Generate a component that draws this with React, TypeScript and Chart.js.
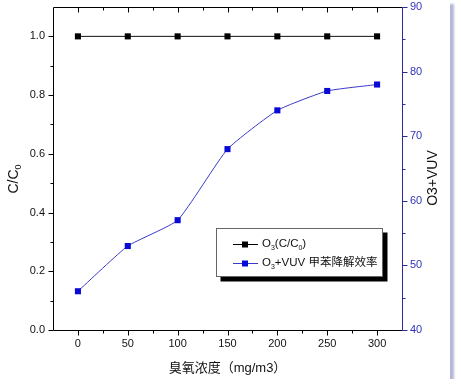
import React, { useEffect, useRef } from "react";
import { Chart, registerables } from "chart.js";

Chart.register(...registerables);

// ---- data ----
const ozone = [0, 50, 100, 150, 200, 250, 300];
const ratioCC0 = [1.0, 1.0, 1.0, 1.0, 1.0, 1.0, 1.0];
const efficiency = [46, 53, 57, 68, 74, 77, 78];

const xTicks = [0, 50, 100, 150, 200, 250, 300];
const xMinor = [25, 75, 125, 175, 225, 275];
const leftTicks = [0, 0.2, 0.4, 0.6, 0.8, 1.0];
const leftMinor = [0.1, 0.3, 0.5, 0.7, 0.9];
const rightTicks = [40, 50, 60, 70, 80, 90];
const rightMinor = [45, 55, 65, 75, 85];

const xTitle = "臭氧浓度（mg/m3）";
const leftTitle = [{ t: "C/C" }, { t: "0", sub: true }];
const rightTitle = [{ t: "O3+VUV" }];
const legend1 = [{ t: "O" }, { t: "3", sub: true }, { t: "(C/C" }, { t: "0", sub: true }, { t: ")" }];
const legend2 = [{ t: "O" }, { t: "3", sub: true }, { t: "+VUV 甲苯降解效率" }];

const W = 450;
const H = 379;
const FONT = '"Liberation Sans", Arial, "Noto Sans CJK SC", sans-serif';
const BLUE_AXIS = "#2a2a9a";
const BLUE_TEXT = "#3333b8";
const BLUE_LINE = "#3a3ac8";
const BLUE_MARK = "#0a0ad6";

type Seg = { t: string; sub?: boolean };

function segWidth(ctx: CanvasRenderingContext2D, segs: Seg[], size: number) {
  let w = 0;
  for (const s of segs) {
    ctx.font = `${s.sub ? Math.round(size * 0.62) : size}px ${FONT}`;
    w += ctx.measureText(s.t).width;
  }
  return w;
}

function drawSegs(ctx: CanvasRenderingContext2D, segs: Seg[], x: number, y: number, size: number) {
  ctx.textBaseline = "middle";
  ctx.textAlign = "left";
  let cx = x;
  for (const s of segs) {
    const fs = s.sub ? Math.round(size * 0.62) : size;
    ctx.font = `${fs}px ${FONT}`;
    ctx.fillText(s.t, cx, s.sub ? y + size * 0.35 : y);
    cx += ctx.measureText(s.t).width;
  }
}

const framePlugin = {
  id: "frame",
  afterDraw(chart: any) {
    const ctx: CanvasRenderingContext2D = chart.ctx;
    const { left, right, top, bottom } = chart.chartArea;
    const L = Math.round(left) + 0.5;
    const R = Math.round(right) + 0.5;
    const T = Math.round(top) + 0.5;
    const B = Math.round(bottom) + 0.5;
    const xs = chart.scales.x;
    const yl = chart.scales.y;
    const yr = chart.scales.y1;
    const ln = (x1: number, y1: number, x2: number, y2: number) => {
      ctx.beginPath();
      ctx.moveTo(x1, y1);
      ctx.lineTo(x2, y2);
      ctx.stroke();
    };
    ctx.save();
    ctx.lineWidth = 1;
    ctx.strokeStyle = "#000";
    ln(L, T, R, T);
    ln(L, T, L, B);
    ln(L, B, R, B);
    // x ticks
    for (const v of xTicks) {
      const px = Math.round(xs.getPixelForValue(v)) + 0.5;
      ln(px, B, px, B + 5);
      ln(px, T, px, T + 5);
    }
    for (const v of xMinor) {
      const px = Math.round(xs.getPixelForValue(v)) + 0.5;
      ln(px, B, px, B + 3);
      ln(px, T, px, T + 3);
    }
    // left ticks
    for (const v of leftTicks) {
      const py = Math.round(yl.getPixelForValue(v)) + 0.5;
      ln(L - 5, py, L, py);
    }
    for (const v of leftMinor) {
      const py = Math.round(yl.getPixelForValue(v)) + 0.5;
      ln(L - 3, py, L, py);
    }
    // right axis
    ctx.strokeStyle = BLUE_AXIS;
    ln(R, T, R, B);
    for (const v of rightTicks) {
      const py = Math.round(yr.getPixelForValue(v)) + 0.5;
      ln(R, py, R + 5, py);
    }
    for (const v of rightMinor) {
      const py = Math.round(yr.getPixelForValue(v)) + 0.5;
      ln(R, py, R + 3, py);
    }

    // axis titles
    ctx.fillStyle = "#111";
    ctx.font = `13px ${FONT}`;
    ctx.textAlign = "center";
    ctx.textBaseline = "middle";
    ctx.fillText(xTitle, (left + right) / 2, 368);

    const drawRot = (segs: Seg[], cx: number, cy: number, size: number) => {
      const w = segWidth(ctx, segs, size);
      ctx.save();
      ctx.translate(cx, cy);
      ctx.rotate(-Math.PI / 2);
      drawSegs(ctx, segs, -w / 2, 0, size);
      ctx.restore();
    };
    drawRot(leftTitle, 14, 179, 14);
    drawRot(rightTitle, 433, 178, 14);

    // legend
    const lx = 216.5, ly = 228.5, lw = 166, lh = 48;
    ctx.fillStyle = "#000";
    ctx.fillRect(lx + 4, ly + 4, lw + 1, lh + 1);
    ctx.fillStyle = "#fff";
    ctx.fillRect(lx, ly, lw, lh);
    ctx.strokeStyle = "#666";
    ctx.strokeRect(lx, ly, lw, lh);
    const rows = [
      { segs: legend1, line: "#000", mark: "#000", y: 244 },
      { segs: legend2, line: BLUE_LINE, mark: BLUE_MARK, y: 263 },
    ];
    for (const r of rows) {
      ctx.strokeStyle = r.line;
      ln(233, r.y + 0.5, 258, r.y + 0.5);
      ctx.fillStyle = r.mark;
      ctx.fillRect(242, r.y - 2.5, 6, 6);
      ctx.fillStyle = "#111";
      drawSegs(ctx, r.segs, 262, r.y, 11.5);
    }
    ctx.restore();
  },
};

const noPad = (s: any) => {
  s.paddingTop = 0;
  s.paddingBottom = 0;
  s.paddingLeft = 0;
  s.paddingRight = 0;
};

export default function App() {
  const ref = useRef<HTMLCanvasElement | null>(null);
  useEffect(() => {
    document.body.style.margin = "0";
    if (!ref.current) return;
    const chart = new Chart(ref.current, {
      type: "line",
      data: {
        labels: ozone,
        datasets: [
          {
            label: "O3(C/C0)",
            data: ozone.map((x, i) => ({ x, y: ratioCC0[i] })),
            yAxisID: "y",
            borderColor: "#111",
            borderWidth: 1,
            backgroundColor: "#000",
            pointStyle: "rect",
            pointRadius: 4.3,
            pointBorderWidth: 0,
            pointBackgroundColor: "#000",
            tension: 0,
          },
          {
            label: "O3+VUV 甲苯降解效率",
            data: ozone.map((x, i) => ({ x, y: efficiency[i] })),
            yAxisID: "y1",
            borderColor: BLUE_LINE,
            borderWidth: 1,
            backgroundColor: BLUE_MARK,
            pointStyle: "rect",
            pointRadius: 4.3,
            pointBorderWidth: 0,
            pointBackgroundColor: BLUE_MARK,
            tension: 0.15,
          },
        ],
      },
      options: {
        responsive: false,
        animation: false,
        devicePixelRatio: 1,
        layout: { padding: { top: 7, left: 0, right: 0, bottom: 0 } },
        plugins: { legend: { display: false }, tooltip: { enabled: false } },
        scales: {
          x: {
            type: "linear",
            min: -25,
            max: 325,
            grid: { display: false, drawTicks: false },
            border: { display: false },
            afterBuildTicks: (s: any) => {
              s.ticks = xTicks.map((v) => ({ value: v }));
            },
            afterFit: (s: any) => {
              s.height = H - 330;
              noPad(s);
            },
            ticks: {
              padding: 7,
              color: "#111",
              font: { size: 11, family: FONT },
              maxRotation: 0,
              autoSkip: false,
            },
          },
          y: {
            type: "linear",
            position: "left",
            min: 0,
            max: 1.1,
            grid: { display: false, drawTicks: false },
            border: { display: false },
            afterBuildTicks: (s: any) => {
              s.ticks = leftTicks.map((v) => ({ value: v }));
            },
            afterFit: (s: any) => {
              s.width = 53;
              noPad(s);
            },
            ticks: {
              padding: 8,
              color: "#111",
              font: { size: 11, family: FONT },
              callback: (v: any) => Number(v).toFixed(1),
            },
          },
          y1: {
            type: "linear",
            position: "right",
            min: 40,
            max: 90,
            grid: { display: false, drawTicks: false },
            border: { display: false },
            afterBuildTicks: (s: any) => {
              s.ticks = rightTicks.map((v) => ({ value: v }));
            },
            afterFit: (s: any) => {
              s.width = W - 402;
              noPad(s);
            },
            ticks: {
              padding: 8,
              color: BLUE_TEXT,
              font: { size: 11, family: FONT },
            },
          },
        },
      },
      plugins: [framePlugin],
    } as any);
    return () => chart.destroy();
  }, []);
  return (
    <div
      style={{
        width: W,
        height: H,
        background: "#fff",
        boxShadow: "4px 4px 2px #b4b8d6",
      }}
    >
      <canvas ref={ref} width={W} height={H} style={{ display: "block" }} />
    </div>
  );
}
